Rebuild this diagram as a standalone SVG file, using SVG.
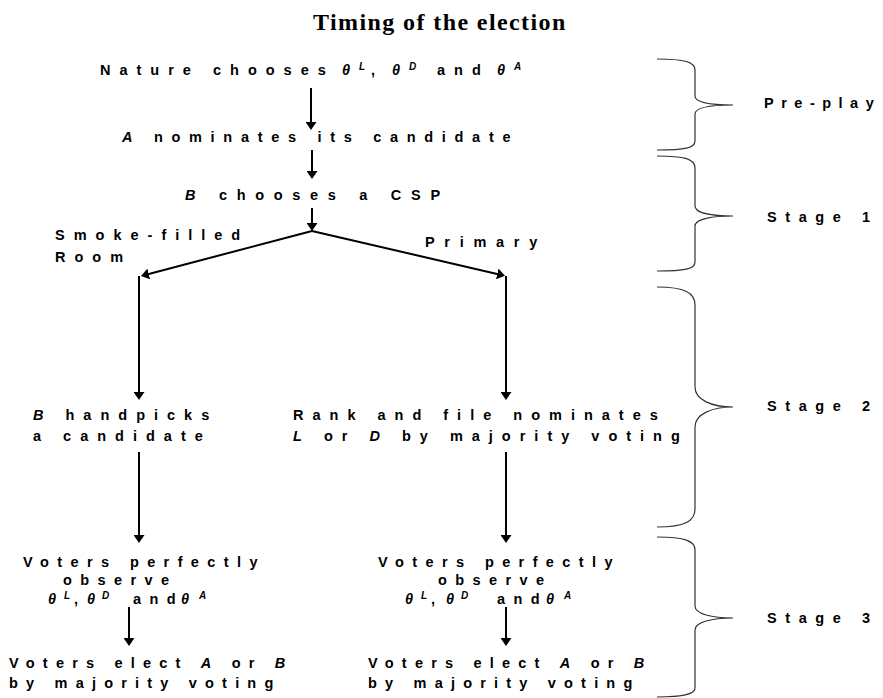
<svg xmlns="http://www.w3.org/2000/svg" width="883" height="698" viewBox="0 0 883 698">
<style>
.t{font-family:"Liberation Sans",Arial,sans-serif;font-weight:bold;font-size:14.5px;letter-spacing:9px;fill:#000}
.i{font-style:italic}
.m{letter-spacing:0}
.s{font-size:10px;font-style:italic;letter-spacing:0}
.title{font-family:"Liberation Serif","Times New Roman",serif;font-weight:bold;font-size:24px;letter-spacing:1.4px;fill:#000}
.c{stroke:#000;stroke-width:2;fill:none}
.b{stroke:#333;stroke-width:1.2;fill:none}
</style>
<defs>
<marker id="ah" viewBox="0 0 8 11" refX="1" refY="5.5" markerWidth="8" markerHeight="11" markerUnits="userSpaceOnUse" orient="auto">
<path d="M0,0 L8,5.5 L0,11 z" fill="#000"/>
</marker>
</defs>
<text class="title" x="313" y="30">Timing of the election</text>
<g id="nature"><text class="t" x="100" y="75">Nature chooses<tspan class="i m" x="342">θ</tspan><tspan class="s" x="359" dy="-5">L</tspan><tspan class="m" x="371" dy="5">,</tspan><tspan class="i m" x="392">θ</tspan><tspan class="s" x="409" dy="-5">D</tspan><tspan class="m" x="437 454 472" dy="5">and</tspan><tspan class="i m" x="497">θ</tspan><tspan class="s" x="514" dy="-5">A</tspan></text></g>
<g id="nominate"><text class="t" x="122" y="142" style="letter-spacing:8.7px"><tspan class="i">A</tspan> nominates its candidate</text></g>
<g id="csp"><text class="t" x="185" y="200" style="letter-spacing:9.7px"><tspan class="i">B</tspan> chooses a CSP</text></g>
<g id="smoke"><text class="t" x="55" y="240">Smoke-filled</text><text class="t" x="55" y="262">Room</text></g>
<g id="primary"><text class="t" x="425" y="247" style="letter-spacing:9.7px">Primary</text></g>
<g id="handpick"><text class="t" x="33" y="420"><tspan class="i">B</tspan> handpicks</text><text class="t" x="33" y="441">a candidate</text></g>
<g id="rankfile"><text class="t" x="293" y="420">Rank and file nominates</text><text class="t" x="293" y="441"><tspan class="i">L</tspan> or <tspan class="i">D</tspan> by majority voting</text></g>
<g id="observeL"><text class="t" x="23" y="567" style="letter-spacing:8.4px">Voters perfectly</text><text class="t" x="63" y="585" style="letter-spacing:8.4px">observe</text><text class="t m" x="48" y="604"><tspan class="i">θ</tspan><tspan class="s" x="64" dy="-5">L</tspan><tspan x="74" dy="5">,</tspan><tspan class="i" x="87">θ</tspan><tspan class="s" x="102" dy="-5">D</tspan><tspan x="133 149.5 166.7" dy="5">and</tspan><tspan class="i" x="181">θ</tspan><tspan class="s" x="199" dy="-5">A</tspan></text></g>
<g id="observeR"><text class="t" x="378" y="567" style="letter-spacing:8.4px">Voters perfectly</text><text class="t" x="438" y="585" style="letter-spacing:8.4px">observe</text><text class="t m" x="405" y="604"><tspan class="i">θ</tspan><tspan class="s" x="421" dy="-5">L</tspan><tspan x="431" dy="5">,</tspan><tspan class="i" x="446">θ</tspan><tspan class="s" x="461" dy="-5">D</tspan><tspan x="497 513.5 530.7" dy="5">and</tspan><tspan class="i" x="546">θ</tspan><tspan class="s" x="564" dy="-5">A</tspan></text></g>
<g id="electL"><text class="t" x="9" y="668" style="letter-spacing:8.2px">Voters elect <tspan class="i">A</tspan> or <tspan class="i">B</tspan></text><text class="t" x="9" y="688" style="letter-spacing:8.2px">by majority voting</text></g>
<g id="electR"><text class="t" x="368" y="668" style="letter-spacing:8.2px">Voters elect <tspan class="i">A</tspan> or <tspan class="i">B</tspan></text><text class="t" x="368" y="688" style="letter-spacing:8.2px">by majority voting</text></g>
<g id="preplay"><path class="b" d="M657,59 C685,59 695,62 695,70 L695,96 C695,103 712,105 733,105 C712,105 695,107 695,114 L695,141 C695,148 685,150 657,150"/><text class="t" x="764" y="108" style="letter-spacing:7.5px">Pre-play</text></g>
<g id="stage1"><path class="b" d="M657,156 C685,156 695,159 695,168 L695,206 C695,213 712,216 733,216 C712,216 695,219 695,226 L695,262 C695,269 685,271 657,271"/><text class="t" x="767" y="222" style="letter-spacing:8.6px">Stage 1</text></g>
<g id="stage2"><path class="b" d="M657,287 C685,287 695,293 695,305 L695,387 C695,400 712,407 733,407 C712,407 695,414 695,427 L695,509 C695,521 685,527 657,527"/><text class="t" x="767" y="411" style="letter-spacing:8.6px">Stage 2</text></g>
<g id="stage3"><path class="b" d="M657,537 C685,537 695,541 695,550 L695,606 C695,614 712,618 733,618 C712,618 695,622 695,630 L695,688 C695,694 685,697 657,697"/><text class="t" x="767" y="623" style="letter-spacing:8.6px">Stage 3</text></g>
<g id="connectors">
<line class="c" x1="311" y1="88" x2="311" y2="123" marker-end="url(#ah)"/>
<line class="c" x1="312" y1="150" x2="312" y2="172" marker-end="url(#ah)"/>
<line class="c" x1="312" y1="208" x2="312" y2="224" marker-end="url(#ah)"/>
<line class="c" x1="312" y1="231" x2="147.8" y2="274.2" marker-end="url(#ah)"/>
<line class="c" x1="312" y1="231" x2="498.2" y2="274.2" marker-end="url(#ah)"/>
<line class="c" x1="139" y1="276" x2="139" y2="393" marker-end="url(#ah)"/>
<line class="c" x1="506" y1="276" x2="506" y2="393" marker-end="url(#ah)"/>
<line class="c" x1="139" y1="452" x2="139" y2="536" marker-end="url(#ah)"/>
<line class="c" x1="506" y1="452" x2="506" y2="536" marker-end="url(#ah)"/>
<line class="c" x1="129" y1="607" x2="129" y2="639" marker-end="url(#ah)"/>
<line class="c" x1="506" y1="607" x2="506" y2="639" marker-end="url(#ah)"/>
</g>
</svg>
